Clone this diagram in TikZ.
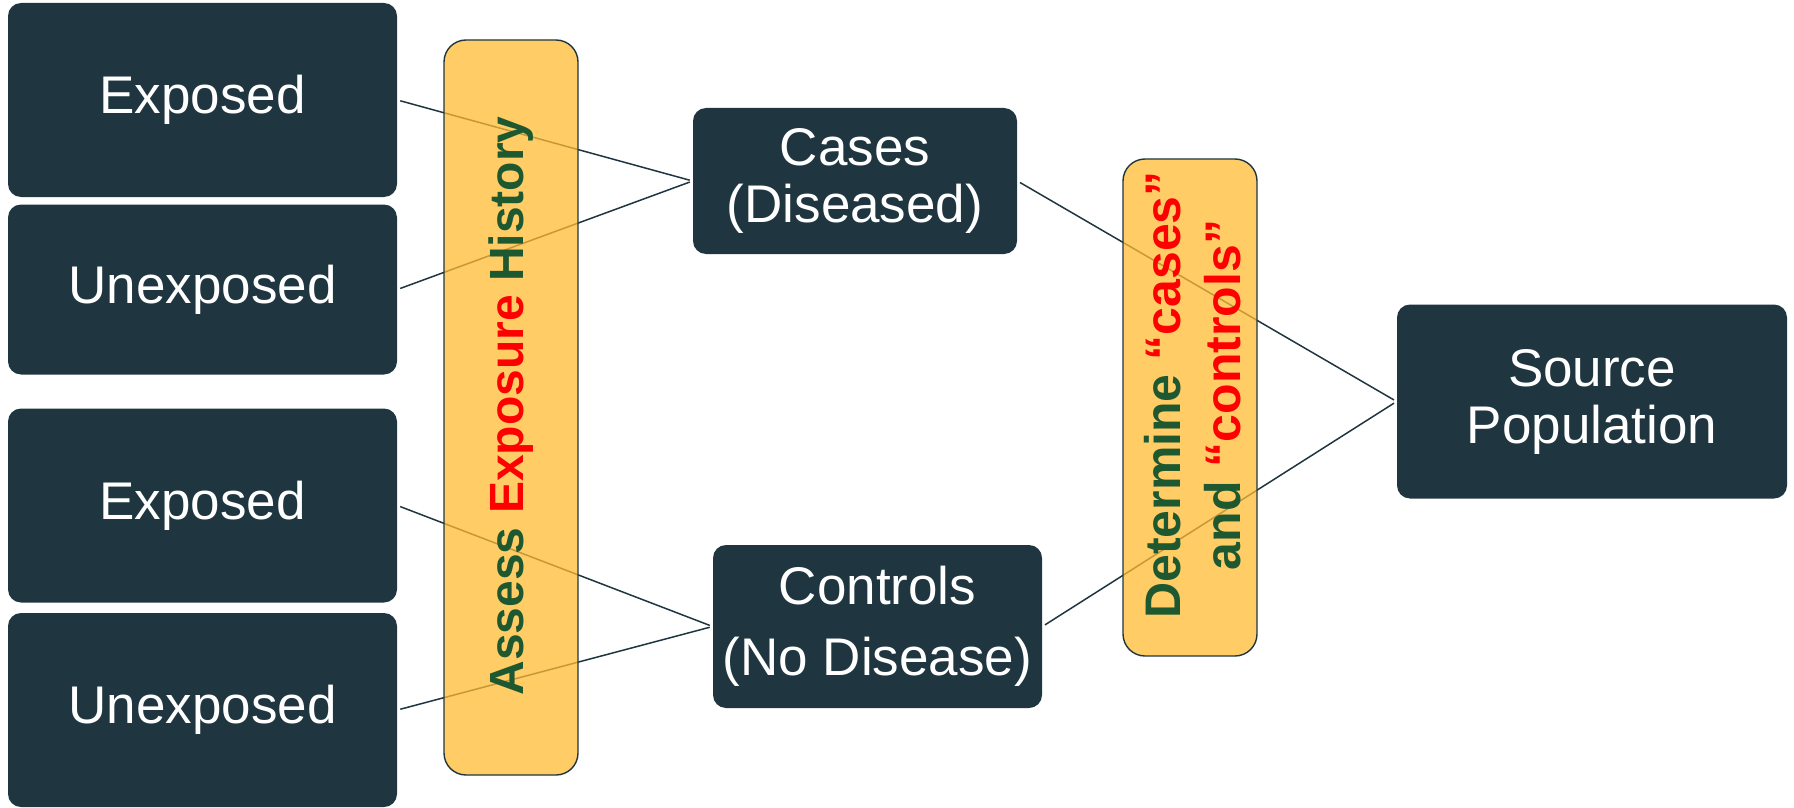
\documentclass[tikz,border=0pt]{standalone}
\usepackage{fontspec}
\setmainfont{Liberation Sans}
\definecolor{boxdark}{RGB}{31,54,64}
\definecolor{baryellow}{RGB}{255,187,51}
\definecolor{bargreen}{RGB}{30,88,48}
\definecolor{barred}{RGB}{255,0,0}

\begin{document}
\begin{tikzpicture}[x=0.5pt,y=-0.5pt,
    darkbox/.style={fill=boxdark,text=white,rounded corners=6.5pt,align=center,inner sep=0pt,
      font=\fontsize{26.5}{28.5}\selectfont,minimum width=194.5pt,minimum height=97pt},
    bar/.style={draw=boxdark,line width=0.7pt,fill=baryellow,fill opacity=0.75,text opacity=1,
      rounded corners=11pt,rotate=90,minimum width=#1,minimum height=67pt,inner sep=0pt},
    bartext/.style={rotate=90,align=center,inner sep=0pt,font=\bfseries\fontsize{25}{30}\selectfont},
    link/.style={draw=boxdark,line width=0.75pt,shorten <=1.5pt,shorten >=1.5pt}]
    \useasboundingbox (0,0) rectangle (1794,808);
    % exposure boxes
    \node[darkbox] (exp1) at (202.5,100) {Exposed};
    \node[darkbox,minimum height=85pt] (unexp1) at (202.5,289.5) {Unexposed};
    \node[darkbox] (exp2) at (202.5,505.5) {Exposed};
    \node[darkbox] (unexp2) at (202.5,710) {Unexposed};
    % groups
    \node[darkbox,minimum width=162pt,minimum height=73pt] (cases) at (855,181) {Cases\\(Diseased)};
    \node[darkbox,minimum width=164.5pt,minimum height=81.5pt,
      font=\fontsize{26.5}{35.5}\selectfont] (controls) at (877.5,626.5) {Controls\\(No Disease)};
    \node[darkbox,minimum width=195pt,minimum height=97pt] (source) at (1592,401.5) {Source\\Population};
    % links
    \draw[link] (exp1.east) -- (cases.west);
    \draw[link] (unexp1.east) -- (cases.west);
    \draw[link] (exp2.east) -- (controls.west);
    \draw[link] (unexp2.east) -- (controls.west);
    \draw[link] (cases.east) -- (source.west);
    \draw[link] (controls.east) -- (source.west);
    % yellow bars
    \node[bar=367.5pt] (assessbar) at (511,407.5) {};
    \node[bartext,font=\bfseries\fontsize{24}{30}\selectfont] (assesstext) at (511,406)
      {\textcolor{bargreen}{Assess} \textcolor{barred}{Exposure} \textcolor{bargreen}{History}};
    \node[bar=248.5pt] (determbar) at (1190,407.5) {};
    \node[bartext] (determtext) at (1193,395)
      {\textcolor{bargreen}{Determine} \textcolor{barred}{“cases”}\\
       \textcolor{bargreen}{and} \textcolor{barred}{“controls”}};
\end{tikzpicture}
\end{document}
